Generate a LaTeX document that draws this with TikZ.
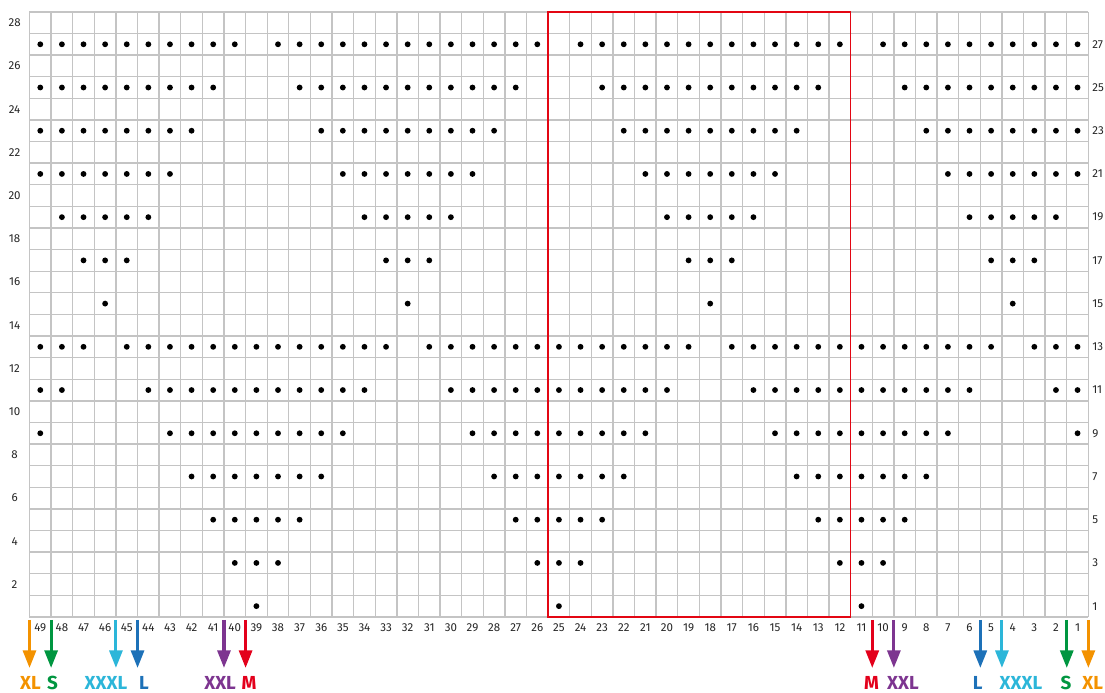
\documentclass[tikz,border=0pt]{standalone}
\usepackage{tikz}
\usetikzlibrary{arrows.meta,positioning,calc}
\usepackage{xcolor}
\usepackage{fontspec}
\setmainfont{Fira Sans}
\definecolor{gridgray}{HTML}{C4C4C4}
\definecolor{repeatred}{HTML}{E30613}
\definecolor{xlcol}{HTML}{F39200}
\definecolor{scol}{HTML}{009640}
\definecolor{xxxlcol}{HTML}{2CB6D9}
\definecolor{lcol}{HTML}{1D71B8}
\definecolor{xxlcol}{HTML}{7D3590}
\definecolor{mcol}{HTML}{E3001B}

\tikzset{
  gridline/.style={draw=gridgray, line width=0.9pt},
  numlbl/.style={font=\fontsize{7.6}{8}\selectfont, inner sep=0pt, text=black!85},
  sizelbl/.style={font=\fontsize{12.4}{13}\selectfont\bfseries, inner sep=0pt},
  sizearrow/.style={line width=2pt, -{Triangle[width=8.5pt,length=11.5pt]}},
  stitch/.style={fill=black}
}

\begin{document}
\begin{tikzpicture}[x=0.5cm, y=0.5cm]
  \useasboundingbox (-1.365,-3.517) rectangle (49.77,28.55);

  % Chart grid
  \draw[gridline, step=0.5cm] (0,0) grid (49,28);

  % Lower diamonds (rows 1--13)
  \foreach \k in {0,...,6} {
    \foreach \c in {1,...,49} {
      \pgfmathtruncatemacro\dd{mod(\c+59,14)}
      \pgfmathtruncatemacro\hit{min(\dd,14-\dd)<=\k}
      \ifnum\hit=1 \fill[stitch] (49.5-\c, 2*\k+0.5) circle (0.135); \fi
    }
  }

  % Upper diamonds (rows 15--27)
  \foreach \k in {0,...,6} {
    \foreach \c in {1,...,49} {
      \pgfmathtruncatemacro\dd{mod(\c+66,14)}
      \pgfmathtruncatemacro\hit{min(\dd,14-\dd)<=\k}
      \ifnum\hit=1 \fill[stitch] (49.5-\c, 2*\k+14.5) circle (0.135); \fi
    }
  }

  % Pattern repeat
  \draw[repeatred, line width=1pt] (24,0) rectangle (38,28);

  % Stitch and row numbers
  \foreach \c in {1,...,49} {
    \node[numlbl] (col\c) at (49.5-\c,-0.51) {\c};
  }
  \foreach \r in {2,4,...,28} {
    \node[numlbl] (rowL\r) at (-0.69,\r-0.5) {\r};
  }
  \foreach \r in {1,3,...,27} {
    \node[numlbl, anchor=west] (rowR\r) at (49.17,\r-0.5) {\r};
  }

  % Sizes
  \foreach \ln/\col/\lx/\txt [count=\i] in {0/xlcol/0.04/XL, 1/scol/1.06/S, 4/xxxlcol/3.54/XXXL, 5/lcol/5.30/L, 9/xxlcol/8.82/XXL, 10/mcol/10.16/M, 39/mcol/38.97/M, 40/xxlcol/40.42/XXL, 44/lcol/43.88/L, 45/xxxlcol/45.88/XXXL, 48/scol/47.96/S, 49/xlcol/49.2/XL} {
    \coordinate (top\i) at (\ln,-0.14);
    \coordinate (tip\i) at (\ln,-2.36);
    \draw[sizearrow, \col] (top\i) -- (tip\i);
    \node[sizelbl, text=\col] (size\i) at (\lx,-3.04) {\txt};
  }
\end{tikzpicture}
\end{document}
